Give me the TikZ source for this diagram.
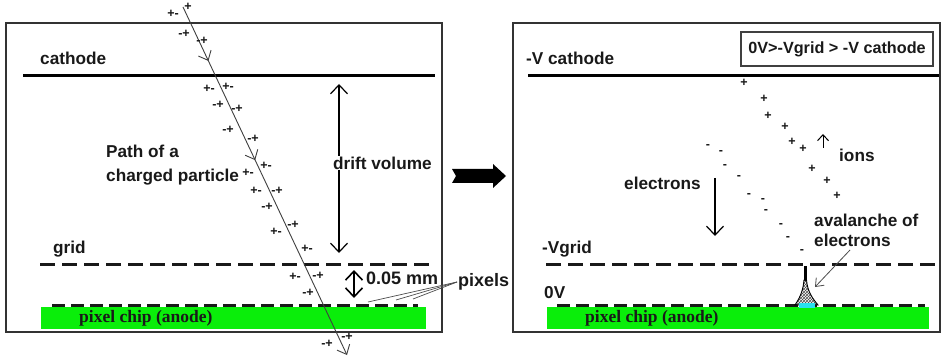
\documentclass[tikz,border=0pt]{standalone}
\usepackage{fontspec}
\setmainfont{Liberation Sans}
\newfontfamily\chipfont{Liberation Serif}
\usetikzlibrary{arrows.meta,decorations.markings,patterns}

\definecolor{chipgreen}{RGB}{10,238,10}
\definecolor{padcyan}{RGB}{40,225,240}
\definecolor{ink}{RGB}{25,25,25}

\tikzset{
  lbl/.style={font=\fontsize{17.2}{20}\selectfont\bfseries, text=ink, inner sep=1pt, anchor=west},
  biglbl/.style={lbl, font=\fontsize{18}{20}\selectfont\bfseries},
  pm/.style={font=\fontsize{12.5}{12.5}\selectfont\bfseries, text=ink, inner sep=0pt,
             text height=0.6em, text depth=0pt},
  frame/.style={draw=black!80, line width=1.8pt},
  electrode/.style={draw=black, line width=3pt},
  gridline/.style={draw=black!90, line width=3pt, dash pattern=on 15pt off 7pt},
  pixline/.style={draw=black!90, line width=3.5pt, dash pattern=on 13pt off 6pt},
  chip/.style={fill=chipgreen, inner sep=0pt, anchor=north west},
  chiptext/.style={font=\fontsize{17.5}{19}\selectfont\chipfont\bfseries, text=ink, inner sep=0pt, anchor=west},
  barb/.style={line width=1.2pt, arrows={Straight Barb[length=9pt,width=17pt]-Straight Barb[length=9pt,width=17pt]}},
  track/.style={draw=black!75, line width=0.9pt,
    postaction={decorate},
    decoration={markings,
      mark=at position 0.155 with {\arrow{Straight Barb[length=8pt,width=14pt,line width=0.9pt]}},
      mark=at position 0.44 with {\arrow{Straight Barb[length=8pt,width=14pt,line width=0.9pt]}}},
    -{Straight Barb[length=8pt,width=14pt]}},
  leader/.style={draw=black!70, line width=0.7pt}
}

\begin{document}
\begin{tikzpicture}[x=1pt,y=-1pt]
\useasboundingbox (0,0) rectangle (947,358);
\fill[white] (0,0) rectangle (947,358);

% ---------------- left panel: chamber with a crossing particle ----------------
\draw[frame] (6,23) rectangle (442,332);
\draw[electrode] (23,76) -- (435,76);
\node[lbl] (cathL) at (39,58) {cathode};

\draw[gridline] (40,264) -- (430,264);
\node[lbl] (gridL) at (52,249) {grid};

\node[chip, minimum width=385pt, minimum height=22pt] (chipL) at (41,307) {};
\node[chiptext] (chipLtext) at (79,318) {pixel chip (anode)};
\draw[pixline] (52,305.5) -- (418,305.5);

% particle track
\coordinate (pA) at (183,7);
\coordinate (pB) at (347,355);
\draw[track] (pA) -- (pB);

% ionisation pairs along the track
\foreach \x/\y/\t [count=\i] in {
  173/15/+-, 188/8/+, 184/35/-+, 202/42/-+, 209/90/+-, 228/88/+-,
  218/106/-+, 237/110/-+, 228/131/-+, 253/140/-+, 266/167/+-, 248/174/+-,
  256/191/+-, 277/191/-+, 267/207/-+, 276/232/+-, 293/225/-+, 307/249/+-,
  295/277/+-, 318/276/-+, 308/293/-+, 327/344/-+, 347/337/-+}
  \node[pm] (pair\i) at (\x,\y) {\t};

\node[lbl, align=left, font=\fontsize{17.2}{24}\selectfont\bfseries] (pathlbl) at (105,165) {Path of a\\charged particle};

% drift volume
\coordinate (dvT) at (339,84);
\coordinate (dvB) at (339,253);
\draw[barb] (dvT) -- (dvB);
\node[lbl, fill=white] (dvlbl) at (332,163) {drift volume};

% amplification gap
\coordinate (gapT) at (354,270);
\coordinate (gapB) at (354,298);
\draw[barb, line width=1.6pt] (gapT) -- (gapB);
\node[biglbl] (gaplbl) at (365,278) {0.05 mm};

% pixels label
\node[biglbl, fill=white, inner sep=2pt] (pixlbl) at (456,282) {pixels};
\coordinate (px1) at (368,302);
\coordinate (px2) at (396,300);
\coordinate (px3) at (413,299);
\foreach \p in {px1,px2,px3}
  \draw[leader] ([xshift=1pt]pixlbl.west) -- (\p);

% ---------------- transition arrow ----------------
\fill[black] (452,169) -- (493,169) -- (493,164) -- (506,176) -- (493,188)
  -- (493,183) -- (452,183) -- (456,176) -- cycle;

% ---------------- right panel: drift and avalanche ----------------
\draw[frame] (513,23) rectangle (940,332);
\draw[electrode] (528,76) -- (939,76);
\node[lbl] (cathR) at (525,58) {-V cathode};
\node[lbl, anchor=center, draw=black!75, line width=1.2pt,
      font=\fontsize{16.2}{19}\selectfont\bfseries,
      minimum width=192pt, minimum height=34pt] (cond) at (837,49) {0V>-Vgrid > -V cathode};

\draw[gridline] (546,264) -- (935,264);
\node[lbl] (gridR) at (541,249) {-Vgrid};
\node[lbl] (zeroV) at (543,293) {0V};

\node[chip, minimum width=382pt, minimum height=22pt] (chipR) at (547,307) {};
\node[chiptext] (chipRtext) at (585,318) {pixel chip (anode)};
\draw[pixline] (557,305.5) -- (925,305.5);

% positive ions
\foreach \x/\y [count=\i] in {744/84, 764/100, 768/117, 785/128, 792/143,
                               803/150, 812/170, 827/182, 837/197}
  \node[pm] (ion\i) at (\x,\y) {+};
% drifting electrons
\foreach \x/\y [count=\i] in {708/146, 721/152, 725/166, 739/176, 749/194,
                               763/199, 766/211, 781/224, 788/237, 802/250}
  \node[pm] (el\i) at (\x,\y) {-};

\node[lbl] (ionlbl) at (838,155) {ions};
\coordinate (ionA) at (823,148);
\coordinate (ionB) at (823,134);
\draw[line width=1pt, -{Straight Barb[length=6pt,width=11pt]}] (ionA) -- (ionB);

\node[lbl] (ellbl) at (623,183) {electrons};
\coordinate (elA) at (715,178);
\coordinate (elB) at (715,236);
\draw[line width=1.2pt, -{Straight Barb[length=9pt,width=17pt]}] (elA) -- (elB);

% avalanche near the pixel
\fill[black] (804,266) rectangle (806.5,281);
\draw[black, line width=0.9pt, pattern=crosshatch, pattern color=black!70]
  (804,280) .. controls (803,292) and (799,299) .. (795,305)
  -- (818,305) .. controls (813,299) and (807.5,292) .. (806.5,280) -- cycle;
\fill[padcyan] (799,303) rectangle (815,308);

\node[lbl, align=left] (avlbl) at (813,230) {avalanche of\\electrons};
\coordinate (avA) at (850,250);
\coordinate (avB) at (815,287);
\draw[draw=black!70, line width=0.8pt, -{Straight Barb[length=7pt,width=11pt]}] (avA) -- (avB);

\end{tikzpicture}
\end{document}
